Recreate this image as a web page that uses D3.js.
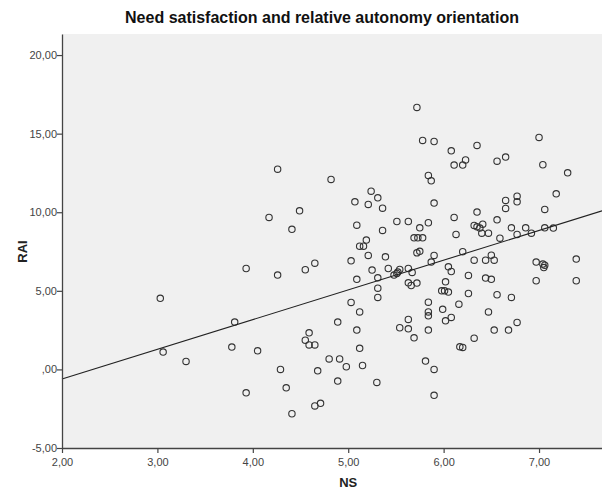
<!DOCTYPE html>
<html lang="en">
<head>
    <meta charset="UTF-8">
    <title>Need satisfaction and relative autonomy orientation</title>
    <script src="https://d3js.org/d3.v7.min.js"></script>
    <style>
        body { margin: 0; background: #ffffff; }
        text { font-family: "Liberation Sans", Arial, sans-serif; }
    </style>
</head>
<body>
    <div id="chart"></div>

    <script>
        // Data (NS = need satisfaction, RAI = relative autonomy index)
        var nsValues = [
            4.26, 4.17, 4.49, 4.41, 3.93, 4.26, 3.03, 3.81, 3.06, 3.30, 3.78, 4.05, 4.29, 4.35, 3.93, 4.41,
            5.72, 5.78, 5.90, 6.08, 6.11, 6.20, 6.23, 5.84, 5.87, 4.82, 5.24, 5.31, 5.07, 5.21, 5.36, 5.90,
            5.09, 5.36, 5.51, 5.63, 5.75, 5.84, 6.11, 6.13, 5.19, 5.69, 5.73, 5.78,
            5.12, 5.16, 5.72, 5.75, 5.90, 5.21, 5.39, 5.03, 4.65, 4.55, 5.25, 5.42, 5.54, 5.63, 5.67, 5.87,
            6.05, 6.08, 5.48, 5.51, 5.52, 5.31, 5.09, 5.63, 5.66, 5.72, 6.02, 5.98, 6.01, 6.05, 5.31, 5.31,
            5.03, 5.12, 5.84, 6.16, 5.84, 5.84, 5.99, 6.08, 6.02, 5.63, 4.89, 5.54, 5.63, 5.84, 5.69, 5.09,
            4.59, 4.55, 4.59, 4.65, 5.12, 4.80, 4.91, 5.81, 6.17,
            4.98, 5.15, 4.68, 4.89, 5.30, 5.90, 5.90, 4.65, 4.71,
            7.00, 6.35, 6.56, 6.65, 7.04, 7.30, 7.18, 6.77, 6.77, 6.65, 6.65, 6.35, 7.06, 6.56, 6.32, 6.35,
            6.38, 6.41, 6.40, 6.47, 6.71, 6.77, 6.86, 6.92, 7.06, 7.15, 6.59, 6.20, 6.32, 6.44, 6.50, 6.53,
            6.97, 7.04, 7.06, 7.05, 7.39,
            6.97, 7.39, 6.26, 6.44, 6.50, 6.26, 6.56, 6.71, 6.47, 6.77, 6.53, 6.68, 6.32, 6.20
        ];

        var raiValues = [
            12.74, 9.67, 10.09, 8.91, 6.42, 6.00, 4.52, 3.01, 1.10, 0.51, 1.42, 1.18, 0.00, -1.17, -1.49, -2.82,
            16.67, 14.57, 14.50, 13.91, 13.00, 13.00, 13.33, 12.34, 12.00, 12.09, 11.34, 10.92, 10.66, 10.50, 10.26, 10.58,
            9.18, 8.84, 9.41, 9.41, 9.01, 9.33, 9.67, 8.59, 8.23, 8.37, 8.37, 8.37,
            7.84, 7.84, 7.42, 7.51, 7.25, 7.25, 7.16, 6.91, 6.76, 6.34, 6.32, 6.42, 6.36, 6.42, 6.17, 6.83,
            6.53, 6.23, 6.00, 6.11, 6.19, 5.83, 5.73, 5.51, 5.34, 5.49, 5.57, 5.00, 5.00, 4.92, 5.17, 4.58,
            4.26, 3.66, 4.28, 4.15, 3.66, 3.41, 3.82, 3.31, 3.09, 3.18, 3.01, 2.65, 2.58, 2.50, 2.01, 2.50,
            2.33, 1.86, 1.56, 1.56, 1.34, 0.67, 0.67, 0.53, 1.44,
            0.17, 0.25, -0.09, -0.74, -0.83, 0.00, -1.65, -2.32, -2.16,
            14.76, 14.25, 13.25, 13.51, 13.02, 12.51, 11.17, 11.02, 10.66, 10.75, 10.24, 10.01, 10.18, 9.52, 9.16, 9.07,
            8.99, 9.24, 8.67, 8.67, 9.01, 8.59, 9.01, 8.67, 9.01, 8.99, 8.35, 7.49, 6.95, 6.95, 7.27, 6.95,
            6.83, 6.70, 6.63, 6.48, 7.02,
            5.64, 5.64, 5.98, 5.81, 5.73, 4.83, 4.75, 4.58, 3.66, 2.99, 2.50, 2.50, 1.99, 1.40
        ];

        // Fit line
        var fitIntercept = -4.39;
        var fitSlope = 1.89;

        // Ticks
        var xTicks = [2, 3, 4, 5, 6, 7];
        var xTickLabels = ["2,00", "3,00", "4,00", "5,00", "6,00", "7,00"];
        var yTicks = [-5, 0, 5, 10, 15, 20];
        var yTickLabels = ["-5,00", ",00", "5,00", "10,00", "15,00", "20,00"];

        var points = nsValues.map(function (d, i) { return [d, raiValues[i]]; });

        var width = 602, height = 495;
        var margin = { top: 34, right: 0, bottom: 47, left: 62 };

        var svg = d3.select("#chart")
            .append("svg")
            .attr("width", width)
            .attr("height", height);

        var x = d3.scaleLinear()
            .domain([2, 7.66])
            .range([margin.left, width - margin.right]);

        var y = d3.scaleLinear()
            .domain([-5, 21.34])
            .range([height - margin.bottom, margin.top]);

        // Plot background
        svg.append("rect")
            .attr("x", margin.left)
            .attr("y", margin.top)
            .attr("width", width - margin.left - margin.right)
            .attr("height", height - margin.top - margin.bottom)
            .attr("fill", "#f0f0f0");

        // Points
        svg.append("g")
            .selectAll("circle")
            .data(points)
            .enter()
            .append("circle")
            .attr("cx", function (d) { return x(d[0]); })
            .attr("cy", function (d) { return y(d[1]); })
            .attr("r", 3.2)
            .attr("fill", "none")
            .attr("stroke", "#333")
            .attr("stroke-width", 1.1);

        // Fit line
        var lineX = x.domain();
        svg.append("line")
            .attr("x1", x(lineX[0]))
            .attr("y1", y(fitIntercept + fitSlope * lineX[0]))
            .attr("x2", x(lineX[1]))
            .attr("y2", y(fitIntercept + fitSlope * lineX[1]))
            .attr("stroke", "#222")
            .attr("stroke-width", 1.1);

        // Axes
        var xAxis = svg.append("g")
            .attr("transform", "translate(0," + (height - margin.bottom) + ")")
            .call(d3.axisBottom(x)
                .tickValues(xTicks)
                .tickSize(5)
                .tickSizeOuter(0)
                .tickFormat(function (d, i) { return xTickLabels[i]; }));

        var yAxis = svg.append("g")
            .attr("transform", "translate(" + margin.left + ",0)")
            .call(d3.axisLeft(y)
                .tickValues(yTicks)
                .tickSize(5)
                .tickSizeOuter(0)
                .tickFormat(function (d, i) { return yTickLabels[i]; }));

        [xAxis, yAxis].forEach(function (g) {
            g.select(".domain").attr("stroke", "#444").attr("stroke-width", 1.3);
            g.selectAll(".tick line").attr("stroke", "#444").attr("stroke-width", 1.2);
            g.selectAll(".tick text")
                .attr("fill", "#444")
                .style("font-size", "11px")
                .style("font-family", "'Liberation Sans', Arial, sans-serif");
        });
        xAxis.selectAll(".tick text").attr("dy", "0.9em");
        yAxis.selectAll(".tick text").attr("x", -5);

        // Title and axis labels
        svg.append("text")
            .attr("x", 322)
            .attr("y", 23)
            .attr("text-anchor", "middle")
            .style("font-size", "16px")
            .style("font-weight", "bold")
            .attr("fill", "#111")
            .text("Need satisfaction and relative autonomy orientation");

        svg.append("text")
            .attr("text-anchor", "middle")
            .attr("transform", "translate(27," + y(7.5) + ") rotate(-90)")
            .style("font-size", "13px")
            .style("font-weight", "bold")
            .attr("fill", "#222")
            .text("RAI");

        svg.append("text")
            .attr("x", x(5))
            .attr("y", 487)
            .attr("text-anchor", "middle")
            .style("font-size", "13px")
            .style("font-weight", "bold")
            .attr("fill", "#222")
            .text("NS");
    </script>
</body>
</html>
